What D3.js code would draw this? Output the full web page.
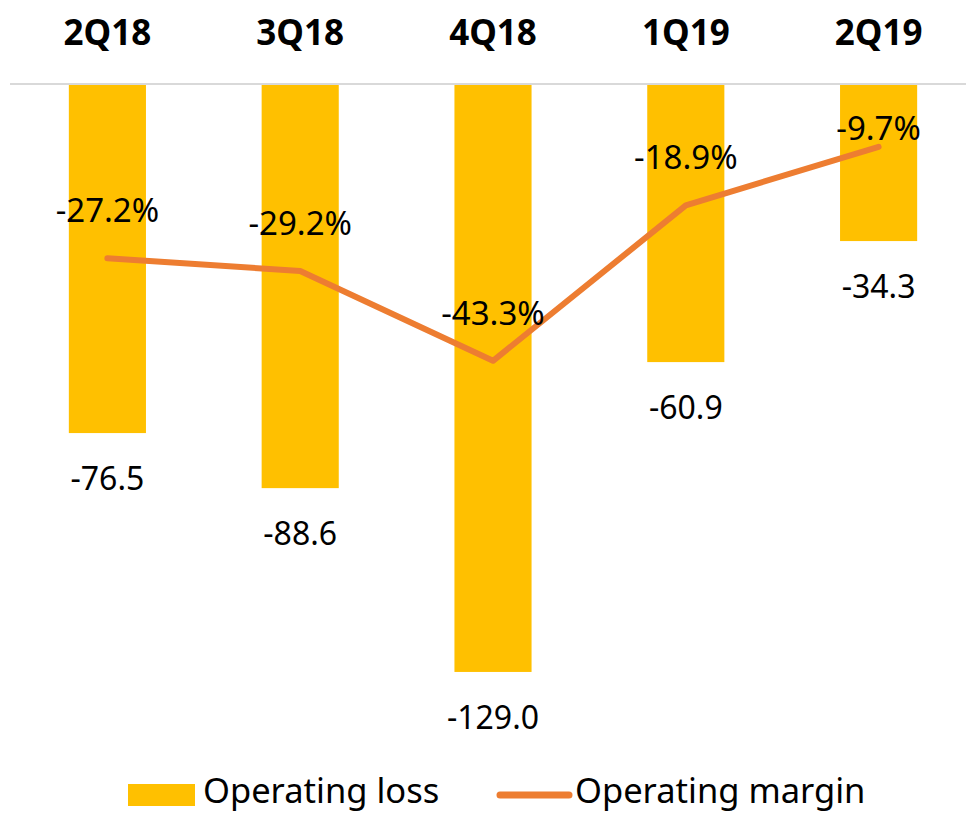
<!DOCTYPE html>
<html>
<head>
<meta charset="utf-8">
<script src="https://cdn.jsdelivr.net/npm/d3@7"></script>
<style>
  body { margin: 0; background: #fff; }
  svg { display: block; font-family: "Noto Sans", "Open Sans", sans-serif; }
</style>
</head>
<body>
<svg></svg>
<script>
const width = 966;
const height = 814;

const quarters = ["2Q18", "3Q18", "4Q18", "1Q19", "2Q19"];
const operatingLoss = [-76.5, -88.6, -129.0, -60.9, -34.3];
const operatingMargin = [-27.2, -29.2, -43.3, -18.9, -9.7];
const legendLabels = ["Operating loss", "Operating margin"];

const colors = {
    bar: "#FFC000",
    line: "#ED7D31",
    axis: "#d9d9d9",
    text: "#000"
};

const svg = d3.select("svg")
    .attr("width", width)
    .attr("height", height);

const zeroY = 85;

const x = d3.scaleBand()
    .domain(quarters)
    .range([11, 975])
    .paddingInner(0.6)
    .paddingOuter(0.3);

const yLoss = d3.scaleLinear()
    .domain([0, -150])
    .range([zeroY, zeroY + 682.5]);

const yMargin = d3.scaleLinear()
    .domain([0, -50])
    .range([zeroY, zeroY + 318.5]);

const data = quarters.map((q, i) => ({ q, loss: operatingLoss[i], margin: operatingMargin[i] }));

// category labels on top
svg.append("g")
    .selectAll("text")
    .data(quarters)
    .enter().append("text")
    .attr("x", d => x(d) + x.bandwidth() / 2)
    .attr("y", 45)
    .attr("text-anchor", "middle")
    .attr("font-size", "35px")
    .attr("font-weight", "bold")
    .attr("fill", colors.text)
    .text(d => d);

// bars
svg.append("g")
    .selectAll("rect")
    .data(data)
    .enter().append("rect")
    .attr("x", d => x(d.q))
    .attr("y", yLoss(0))
    .attr("width", x.bandwidth())
    .attr("height", d => yLoss(d.loss) - yLoss(0))
    .attr("fill", colors.bar);

// axis line
svg.append("line")
    .attr("x1", 10)
    .attr("x2", width)
    .attr("y1", zeroY - 1)
    .attr("y2", zeroY - 1)
    .attr("stroke", colors.axis)
    .attr("stroke-width", 2);

// bar value labels
svg.append("g")
    .selectAll("text")
    .data(data)
    .enter().append("text")
    .attr("x", d => x(d.q) + x.bandwidth() / 2)
    .attr("y", d => yLoss(d.loss) + 57)
    .attr("text-anchor", "middle")
    .attr("font-size", "32px")
    .attr("fill", colors.text)
    .text(d => d.loss.toFixed(1));

// margin line
const line = d3.line()
    .x(d => x(d.q) + x.bandwidth() / 2)
    .y(d => yMargin(d.margin));

svg.append("path")
    .datum(data)
    .attr("d", line)
    .attr("fill", "none")
    .attr("stroke", colors.line)
    .attr("stroke-width", 6)
    .attr("stroke-linecap", "round")
    .attr("stroke-linejoin", "round");

// margin labels (Excel nudges the top one down so it stays in the plot)
svg.append("g")
    .selectAll("text")
    .data(data)
    .enter().append("text")
    .attr("x", d => x(d.q) + x.bandwidth() / 2)
    .attr("y", d => Math.max(yMargin(d.margin) - 36, 140))
    .attr("text-anchor", "middle")
    .attr("font-size", "33px")
    .attr("fill", colors.text)
    .text(d => d.margin.toFixed(1) + "%");

// legend
const legend = svg.append("g");
legend.append("rect")
    .attr("x", 128)
    .attr("y", 784)
    .attr("width", 67)
    .attr("height", 22)
    .attr("fill", colors.bar);
legend.append("text")
    .attr("x", 203)
    .attr("y", 803)
    .attr("font-size", "34.5px")
    .attr("fill", colors.text)
    .text(legendLabels[0]);
legend.append("line")
    .attr("x1", 500)
    .attr("x2", 569)
    .attr("y1", 795)
    .attr("y2", 795)
    .attr("stroke", colors.line)
    .attr("stroke-width", 7)
    .attr("stroke-linecap", "round");
legend.append("text")
    .attr("x", 575)
    .attr("y", 803)
    .attr("font-size", "34.5px")
    .attr("fill", colors.text)
    .text(legendLabels[1]);
</script>
</body>
</html>
